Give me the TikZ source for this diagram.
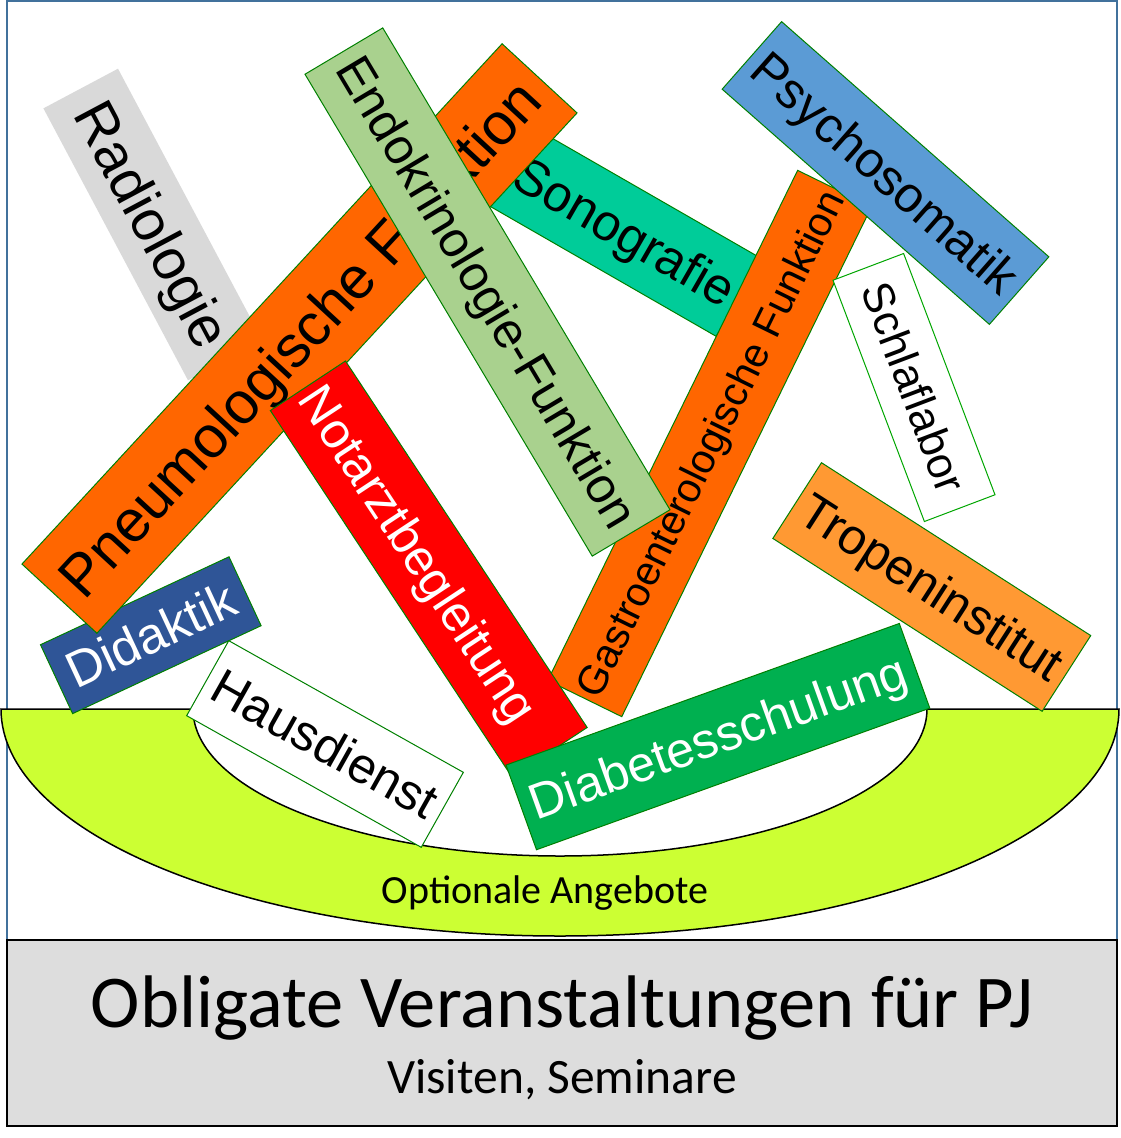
\documentclass[tikz,border=0pt]{standalone}
\usepackage{fontspec}
\setmainfont{Liberation Sans}
\newfontfamily\calibri{Carlito}
\usepackage{tikz}
\usetikzlibrary{calc}

\definecolor{framecol}{HTML}{41719C}
\definecolor{boxgray}{HTML}{DDDDDD}
\definecolor{bowlcol}{HTML}{CCFF33}
\definecolor{tagline}{HTML}{008000}
\definecolor{radiocol}{HTML}{D9D9D9}
\definecolor{orangecol}{HTML}{FF6600}
\definecolor{tropencol}{HTML}{FF9933}
\definecolor{psychocol}{HTML}{5B9BD5}
\definecolor{didacol}{HTML}{2F5597}
\definecolor{sonocol}{HTML}{00CC99}
\definecolor{endocol}{HTML}{A9D18E}
\definecolor{diabcol}{HTML}{00B050}
\definecolor{notcol}{HTML}{FF0000}

\newcommand{\tagtext}[2]{\fontsize{#1}{#1}\selectfont\rule[-0.212em]{0pt}{1.117em}#2}

\tikzset{
    tag/.style={draw=tagline, line width=1pt, inner sep=0pt},
}

\begin{document}
\begin{tikzpicture}[x=1pt,y=1pt]
    \useasboundingbox (0,0) rectangle (1120,-1138);

    \draw[framecol, line width=2pt] (7,-1) rectangle (1117,-940);
    \draw[fill=boxgray, line width=2pt] (7,-940) rectangle (1117,-1126);
    \node[anchor=base] (obligat) at (562,-1027) {\calibri\fontsize{74.5}{74.5}\selectfont Obligate Veranstaltungen für PJ};
    \node[anchor=base] (visiten) at (562,-1093) {\calibri\fontsize{49.5}{49.5}\selectfont Visiten, Seminare};

    \draw[fill=bowlcol, line width=1.5pt] (1,-709) -- (193,-709)
        arc[start angle=180, end angle=360, x radius=367, y radius=147]
        -- (1119,-709)
        arc[start angle=0, end angle=-180, x radius=559, y radius=227] -- cycle;
    \node[anchor=base] (optional) at (545,-903) {\calibri\fontsize{40}{40}\selectfont Optionale Angebote};

    \node[tag, draw=none, fill=radiocol, rotate=-62, minimum width=308pt, minimum height=84.5pt] (radio) at (153,-224.5) {\tagtext{57}{Radiologie}};
    \node[tag, fill=sonocol, rotate=-29.9, minimum width=262pt, minimum height=90pt] (sono) at (625,-232) {\tagtext{51}{Sonografie}};
    \node[tag, fill=didacol, text=white, rotate=25, minimum width=208pt, minimum height=76pt] (didaktik) at (150.8,-635.2) {\tagtext{51}{Didaktik}};
    \node[tag, fill=white, rotate=-29.3, minimum width=269pt, minimum height=86pt] (haus) at (325,-744) {\tagtext{50}{Hausdienst}};
    \node[tag, fill=orangecol, rotate=47.3, minimum width=708pt, minimum height=102pt] (pneumo) at (299.5,-338.5) {\tagtext{59}{Pneumologische Funktion}};
    \node[tag, fill=orangecol, rotate=63.9, minimum width=568pt, minimum height=82.4pt] (gastro) at (709.7,-443.5) {\tagtext{41}{Gastroenterologische Funktion}};
    \node[tag, fill=endocol, rotate=-59.2, minimum width=561pt, minimum height=90.5pt] (endo) at (487.5,-292) {\tagtext{50}{Endokrinologie-Funktion}};
    \node[tag, fill=psychocol, rotate=-41.35, minimum width=356pt, minimum height=90pt] (psycho) at (885.5,-173) {\tagtext{50}{Psychosomatik}};
    \node[tag, fill=notcol, text=white, rotate=-56.6, minimum width=439pt, minimum height=90pt] (notarzt) at (428.75,-569) {\tagtext{50}{\hspace*{-36pt}Notarztbegleitung}};
    \node[tag, draw=green!65!black, fill=white, rotate=-69.25, minimum width=258pt, minimum height=75.5pt] (schlaf) at (914,-387.5) {\tagtext{44}{Schlaflabor}};
    \node[tag, fill=tropencol, rotate=-32.7, minimum width=320pt, minimum height=90pt] (tropen) at (931.8,-587) {\tagtext{50}{Tropeninstitut}};
    \node[tag, fill=diabcol, text=white, rotate=19.8, minimum width=418pt, minimum height=90pt] (diabetes) at (717.9,-736.6) {\tagtext{50}{Diabetesschulung}};
\end{tikzpicture}
\end{document}
